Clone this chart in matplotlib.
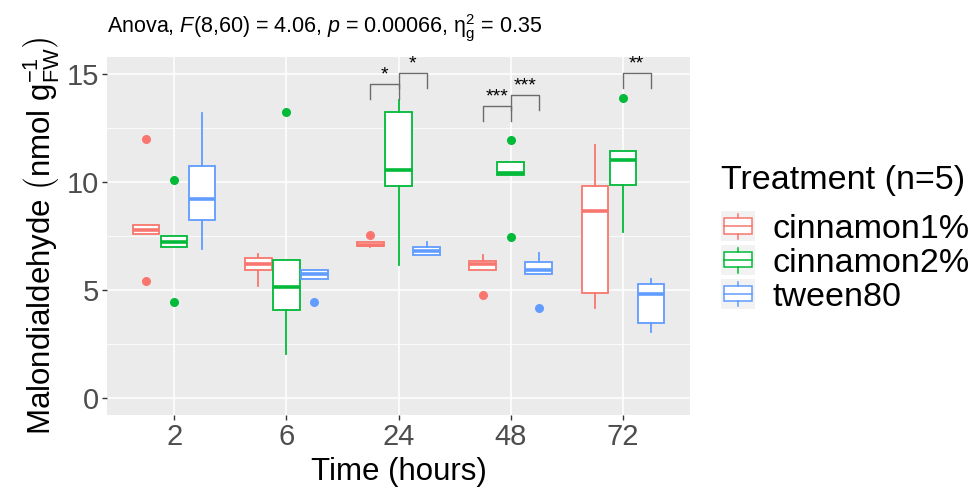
import matplotlib
matplotlib.use('Agg')
import matplotlib.pyplot as plt
from matplotlib.patches import Rectangle, Patch
from matplotlib.lines import Line2D
from matplotlib.legend_handler import HandlerBase
from matplotlib.ticker import MultipleLocator

plt.rcParams['font.family'] = ['Liberation Sans', 'DejaVu Sans']
plt.rcParams['mathtext.fontset'] = 'custom'
plt.rcParams['mathtext.rm'] = 'Liberation Sans'
plt.rcParams['mathtext.it'] = 'Liberation Sans:italic'
plt.rcParams['mathtext.bf'] = 'Liberation Sans:bold'

# data (5 replicates per box)
times = ['2', '6', '24', '48', '72']
treatments = ['cinnamon1%', 'cinnamon2%', 'tween80']
colors = ['#F8766D', '#00BA38', '#619CFF']

cinnamon1 = [
    [5.40, 7.60, 7.80, 8.00, 12.00],
    [5.18, 5.92, 6.21, 6.46, 6.69],
    [7.00, 7.02, 7.10, 7.20, 7.54],
    [4.77, 5.95, 6.21, 6.34, 6.63],
    [4.18, 4.86, 8.64, 9.80, 11.69],
]
cinnamon2 = [
    [4.45, 7.00, 7.20, 7.50, 10.10],
    [2.06, 4.06, 5.12, 6.41, 13.23],
    [6.18, 9.83, 10.54, 13.24, 13.77],
    [7.46, 10.32, 10.41, 10.92, 11.92],
    [7.69, 9.88, 11.03, 11.45, 13.90],
]
tween80 = [
    [6.92, 8.26, 9.23, 10.72, 13.18],
    [4.45, 5.49, 5.72, 5.92, 5.93],
    [6.63, 6.63, 6.80, 6.97, 7.23],
    [4.17, 5.75, 5.95, 6.32, 6.72],
    [3.06, 3.49, 4.80, 5.26, 5.49],
]
series = [cinnamon1, cinnamon2, tween80]

# pairwise significance brackets
sig_time = [2, 2, 3, 3, 4]
sig_from = [0, 1, 0, 1, 1]
sig_to = [1, 2, 1, 2, 2]
sig_y = [14.52, 15.03, 13.50, 14.01, 15.03]
sig_label = ['*', '*', '***', '***', '**']

dodge = 0.25
box_w = 0.235
tip = 0.67

fig = plt.figure(figsize=(9.78, 4.88), dpi=100)
ax = fig.add_axes([107 / 978, (488 - 415) / 488, (690 - 107) / 978, (415 - 57) / 488])
ax.set_facecolor('#EBEBEB')
for s in ax.spines.values():
    s.set_visible(False)

ax.set_xlim(0.4, len(times) + 0.6)
ax.set_ylim(-0.78, 15.78)
ax.yaxis.set_major_locator(MultipleLocator(5))
ax.yaxis.set_minor_locator(MultipleLocator(2.5))
ax.grid(which='major', color='white', lw=1.1, zorder=0)
ax.grid(which='minor', axis='y', color='white', lw=0.55, zorder=0)
ax.set_axisbelow(True)

for k, (data, col) in enumerate(zip(series, colors)):
    pos = [i + 1 + (k - 1) * dodge for i in range(len(times))]
    ax.boxplot(data, positions=pos, widths=box_w, showcaps=False, patch_artist=True,
               manage_ticks=False,
               boxprops=dict(facecolor='white', edgecolor=col, lw=1.3),
               whiskerprops=dict(color=col, lw=1.3),
               medianprops=dict(color=col, lw=2.6, solid_capstyle='butt'),
               flierprops=dict(marker='o', markerfacecolor=col, markeredgecolor='none',
                               markersize=6.5),
               zorder=3)

for t, a, b, y, lab in zip(sig_time, sig_from, sig_to, sig_y, sig_label):
    xa = t + 1 + (a - 1) * dodge
    xb = t + 1 + (b - 1) * dodge
    ax.plot([xa, xa, xb, xb], [y - tip, y, y, y - tip], color='#6B6B6B', lw=1.0, zorder=4)
    ax.text((xa + xb) / 2, y + 0.05, lab, ha='center', va='bottom', fontsize=14, zorder=5)

ax.set_xticks(range(1, len(times) + 1))
ax.set_xticklabels(times)
ax.tick_params(axis='both', which='major', length=3.5, width=1, color='#333333',
               labelcolor='#4D4D4D', labelsize=21, pad=2.5)
ax.tick_params(axis='y', which='minor', length=0)

ax.set_xlabel('Time (hours)', fontsize=22.5, labelpad=4)
ax.set_ylabel(r'Malondialdehyde $\left(\mathrm{nmol\ g_{FW}^{-1}}\right)$', fontsize=22.5,
              labelpad=4)
ax.set_title(r'Anova, $F$(8,60) = 4.06, $p$ = 0.00066, $\mathrm{η}^2_\mathrm{g}$ = 0.35',
             loc='left', fontsize=15.5, pad=17)


class BoxKey(HandlerBase):
    def create_artists(self, legend, orig, x0, y0, w, h, fontsize, trans):
        c = orig.get_edgecolor()
        x0, y0 = -x0, -y0
        bg = Rectangle((x0, y0), w, h, facecolor='#F2F2F2', edgecolor='none',
                       transform=trans)
        bx = Rectangle((x0 + 0.09 * w, y0 + 0.26 * h), 0.82 * w, 0.5 * h, facecolor='white',
                       edgecolor=c, lw=1.1, transform=trans)
        med = Line2D([x0 + 0.09 * w, x0 + 0.91 * w], [y0 + 0.51 * h] * 2, color=c, lw=1.1,
                     transform=trans)
        wt = Line2D([x0 + 0.5 * w] * 2, [y0 + 0.76 * h, y0 + 0.91 * h], color=c, lw=1.1,
                    transform=trans)
        wb = Line2D([x0 + 0.5 * w] * 2, [y0 + 0.26 * h, y0 + 0.09 * h], color=c, lw=1.1,
                    transform=trans)
        return [bg, bx, med, wt, wb]


fig.text(721 / 978, 1 - 189 / 488, 'Treatment (n=5)', fontsize=24.5, ha='left',
         va='baseline')
handles = [Patch(facecolor='white', edgecolor=c) for c in colors]
fig.legend(handles, treatments, loc='upper left',
           bbox_to_anchor=(721 / 978, 1 - 211 / 488), frameon=False, fontsize=24.5,
           handler_map={Patch: BoxKey()}, handlelength=1.0, handleheight=1.0,
           labelspacing=0, handletextpad=0.5, borderpad=0, borderaxespad=0)

fig.savefig('out.png', dpi=100)
